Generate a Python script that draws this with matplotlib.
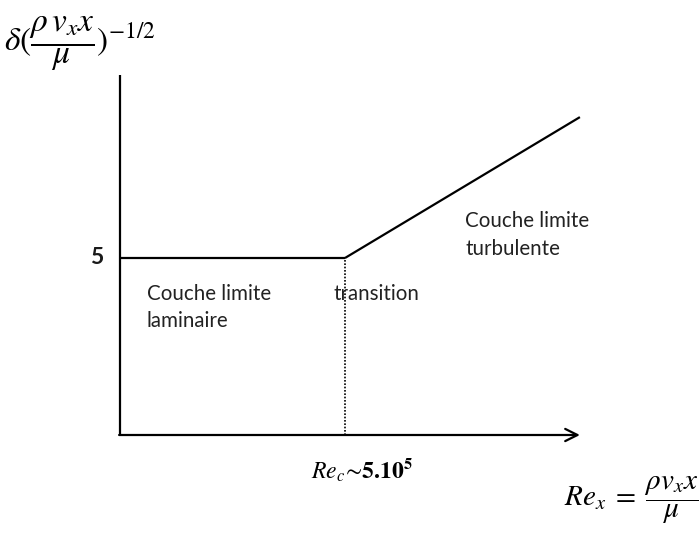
import matplotlib
matplotlib.use("Agg")
import matplotlib.pyplot as plt

# Data (Re in units of 1e5, y = delta*(rho v x / mu)^(-1/2))
re_laminar = [0.0, 5.0]
y_laminar = [5.0, 5.0]
re_turbulent = [5.0, 10.22]
y_turbulent = [5.0, 8.98]
re_transition = [5.0, 5.0]
y_transition = [0.0, 5.0]
y_tick_value = 5
axis_x_end = 10.22
axis_y_end = 10.17

plt.rcParams['mathtext.fontset'] = 'stix'
fig = plt.figure(figsize=(7.0, 5.34), dpi=100)
ax = fig.add_axes([0, 0, 1, 1])
ax.set_xlim(-120/45, 580/45)
ax.set_ylim(-99/35.4, 435/35.4)
ax.axis('off')


def py(p):
    return (435 - p) / 35.4


lw = 1.6
# axes
ax.plot([0, 0], [0, axis_y_end], color='black', lw=lw, solid_capstyle='butt')
ax.annotate('', xy=(axis_x_end, 0), xytext=(-0.02, 0),
            arrowprops=dict(arrowstyle='->', color='black', lw=lw,
                            mutation_scale=22, shrinkA=0, shrinkB=0))
ax.plot(re_laminar, y_laminar, color='black', lw=lw, solid_capstyle='butt')
ax.plot(re_turbulent, y_turbulent, color='black', lw=lw, solid_capstyle='butt')
ax.plot(re_transition, y_transition, color='black', lw=1.2, linestyle=(0, (1, 1)))

tf = 'Lato'
fs = 14.8
tc = '#222222'
ax.text(-0.38, y_tick_value, str(y_tick_value), fontsize=16.5, fontfamily=tf,
        fontweight='bold', ha='right', va='center', color='#1a1a1a')
ax.text(0.6, py(300), 'Couche limite', fontsize=fs, fontfamily=tf,
        ha='left', va='baseline', color=tc)
ax.text(0.6, py(327), 'laminaire', fontsize=fs, fontfamily=tf,
        ha='left', va='baseline', color=tc)
ax.text(4.75, py(300), 'transition', fontsize=fs, fontfamily=tf,
        ha='left', va='baseline', color=tc)
ax.text(7.67, py(227), 'Couche limite', fontsize=fs, fontfamily=tf,
        ha='left', va='baseline', color=tc)
ax.text(7.67, py(255), 'turbulente', fontsize=fs, fontfamily=tf,
        ha='left', va='baseline', color=tc)

ax.text(4.25, -1.0, r'$Re_c\!\sim\!\mathbf{5.10^5}$', fontsize=17,
        ha='left', va='center')
ax.text(12.85, -1.84, r'$Re_x\;=\;\dfrac{\rho v_x x}{\mu}$', fontsize=21,
        ha='right', va='center')
ax.text(-2.58, 11.05, r'$\delta(\dfrac{\rho\, v_x x}{\mu})^{-1/2}$', fontsize=24,
        ha='left', va='center')

fig.savefig('out.png', dpi=100)
